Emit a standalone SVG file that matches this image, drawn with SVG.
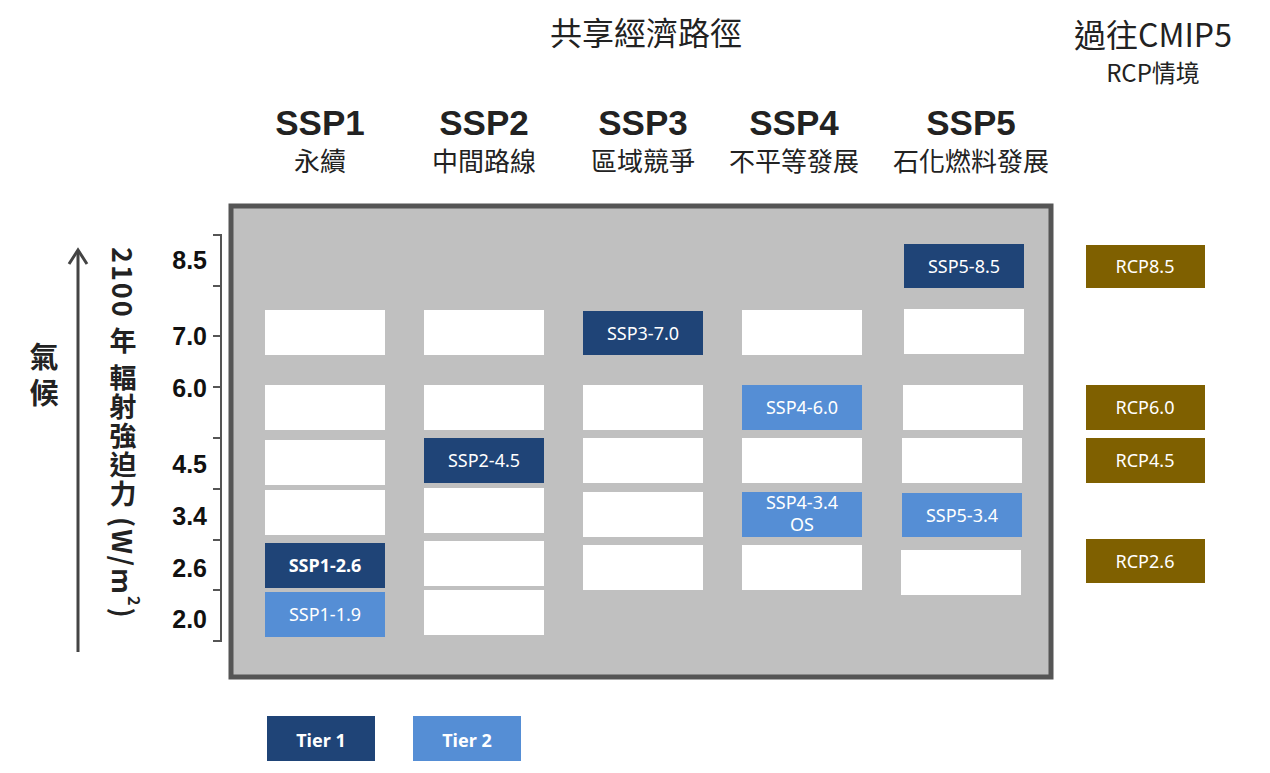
<svg xmlns="http://www.w3.org/2000/svg" width="1270" height="773" viewBox="0 0 1270 773">
<style>
.t{font-family:"Noto Sans CJK TC","Noto Sans",sans-serif;fill:#222}
.h{font-family:"Liberation Sans",Arial,sans-serif;font-weight:bold;font-size:35px;fill:#222;text-anchor:middle}
.s{font-size:26px;text-anchor:middle}
.w{fill:#fff}
.d{fill:#1f4477}
.l{fill:#558ed5}
.r{fill:#7f6000}
.c{font-family:"Noto Sans","Noto Sans CJK TC",sans-serif;font-size:18px;fill:#fff;text-anchor:middle}
.n{font-family:"Liberation Sans",Arial,sans-serif;font-weight:bold;font-size:25px;fill:#111;text-anchor:end}
</style>
<text class="t" x="646" y="45" font-size="32" text-anchor="middle">共享經濟路徑</text>
<text class="t" x="1153" y="47" font-size="32" text-anchor="middle">過往CMIP5</text>
<text class="t" x="1153" y="82" font-size="24" text-anchor="middle">RCP情境</text>
<g id="headers">
<text class="h" x="320" y="135">SSP1</text><text class="t s" x="320" y="171">永續</text>
<text class="h" x="484" y="135">SSP2</text><text class="t s" x="484" y="171">中間路線</text>
<text class="h" x="643" y="135">SSP3</text><text class="t s" x="643" y="171">區域競爭</text>
<text class="h" x="794" y="135">SSP4</text><text class="t s" x="794" y="171">不平等發展</text>
<text class="h" x="971" y="135">SSP5</text><text class="t s" x="971" y="171">石化燃料發展</text>
</g>
<g id="axis">
<line x1="78" y1="252" x2="78" y2="652" stroke="#444" stroke-width="3"/>
<polyline points="69,264 78,250 87,264" fill="none" stroke="#444" stroke-width="3"/>
<text class="t" x="44" y="368" font-size="29" font-weight="bold" text-anchor="middle">氣</text>
<text class="t" x="44" y="404" font-size="29" font-weight="bold" text-anchor="middle">候</text>
<text class="t" x="123" y="247" font-size="27" font-weight="bold" letter-spacing="2" style="writing-mode:vertical-rl">2100 年 輻射強迫力 (W/m<tspan font-size="16" baseline-shift="super">2</tspan>)</text>
<path d="M213,235H221V641H213M213,286H221M213,336H221M213,387H221M213,438H221M213,489H221M213,540H221M213,590H221" fill="none" stroke="#555" stroke-width="2"/>
<text class="n" x="207" y="269">8.5</text>
<text class="n" x="207" y="345">7.0</text>
<text class="n" x="207" y="397">6.0</text>
<text class="n" x="207" y="473">4.5</text>
<text class="n" x="207" y="525">3.4</text>
<text class="n" x="207" y="577">2.6</text>
<text class="n" x="207" y="628">2.0</text>
</g>
<rect x="231" y="206" width="820" height="471" fill="#c0c0c0" stroke="#555" stroke-width="5"/>
<g id="cells">
<rect class="w" x="265" y="310" width="120" height="45"/><rect class="w" x="265" y="385" width="120" height="45"/><rect class="w" x="265" y="440" width="120" height="45"/><rect class="w" x="265" y="490" width="120" height="45"/>
<rect class="d" x="265" y="543" width="120" height="45"/><text class="c" x="325" y="572" font-size="17" font-weight="bold" font-family="Liberation Sans,Arial,sans-serif">SSP1-2.6</text>
<rect class="l" x="265" y="592" width="120" height="45"/><text class="c" x="325" y="621">SSP1-1.9</text>
<rect class="w" x="424" y="310" width="120" height="45"/><rect class="w" x="424" y="385" width="120" height="45"/>
<rect class="d" x="424" y="438" width="120" height="45"/><text class="c" x="484" y="467">SSP2-4.5</text>
<rect class="w" x="424" y="488" width="120" height="45"/><rect class="w" x="424" y="541" width="120" height="45"/><rect class="w" x="424" y="590" width="120" height="45"/>
<rect class="d" x="583" y="311" width="120" height="44"/><text class="c" x="643" y="340">SSP3-7.0</text>
<rect class="w" x="583" y="385" width="120" height="45"/><rect class="w" x="583" y="438" width="120" height="45"/><rect class="w" x="583" y="492" width="120" height="45"/><rect class="w" x="583" y="545" width="120" height="45"/>
<rect class="w" x="742" y="310" width="120" height="45"/>
<rect class="l" x="742" y="385" width="120" height="45"/><text class="c" x="802" y="414">SSP4-6.0</text>
<rect class="w" x="742" y="438" width="120" height="45"/>
<rect class="l" x="742" y="492" width="120" height="45"/><text class="c" x="802" y="509" font-size="16">SSP4-3.4</text><text class="c" x="802" y="531" font-size="16">OS</text>
<rect class="w" x="742" y="545" width="120" height="45"/>
<rect class="d" x="904" y="244" width="120" height="44"/><text class="c" x="964" y="273">SSP5-8.5</text>
<rect class="w" x="904" y="309" width="120" height="45"/><rect class="w" x="903" y="385" width="120" height="45"/><rect class="w" x="902" y="438" width="120" height="45"/>
<rect class="l" x="902" y="493" width="120" height="44"/><text class="c" x="962" y="522">SSP5-3.4</text>
<rect class="w" x="901" y="550" width="120" height="45"/>
</g>
<g id="rcp">
<rect class="r" x="1086" y="245" width="119" height="43"/><text class="c" x="1145" y="273">RCP8.5</text>
<rect class="r" x="1086" y="385" width="119" height="45"/><text class="c" x="1145" y="414">RCP6.0</text>
<rect class="r" x="1086" y="438" width="119" height="45"/><text class="c" x="1145" y="467">RCP4.5</text>
<rect class="r" x="1086" y="539" width="119" height="44"/><text class="c" x="1145" y="568">RCP2.6</text>
</g>
<g id="legend">
<rect class="d" x="267" y="716" width="108" height="45"/><text class="c" x="321" y="747" font-size="22" font-weight="bold" font-family="Liberation Sans,Arial,sans-serif">Tier 1</text>
<rect class="l" x="413" y="716" width="108" height="45"/><text class="c" x="467" y="747" font-size="22" font-weight="bold" font-family="Liberation Sans,Arial,sans-serif">Tier 2</text>
</g>
</svg>
